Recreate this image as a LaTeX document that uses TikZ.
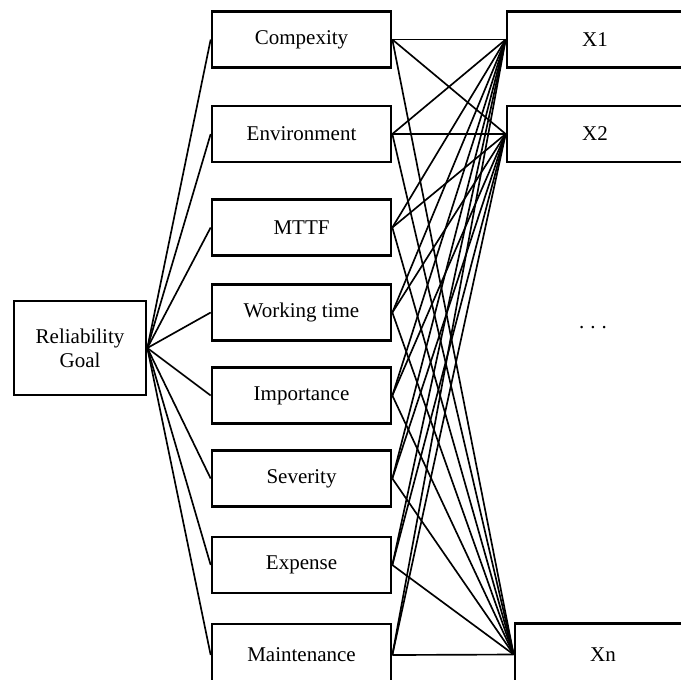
\documentclass[tikz,border=0pt]{standalone}
\usepackage{fontspec}
\setmainfont{Liberation Serif}
\begin{document}
\begin{tikzpicture}[x=0.75pt,y=-0.75pt,
  box/.style={draw=black,line width=2pt,rectangle,inner sep=0pt,
    font=\fontsize{15.75}{19}\selectfont,align=center},
  midbox/.style={box,minimum width=179*0.75pt,minimum height=56*0.75pt},
  outbox/.style={box,minimum width=176*0.75pt,minimum height=56*0.75pt},
  link/.style={line width=1.25pt,black}]
\useasboundingbox (0,0) rectangle (681,679);
\clip (0,0) rectangle (681,679);
\node[box,minimum width=132*0.75pt,minimum height=94*0.75pt] (rg) at (80,348) {Reliability\\[-1pt]Goal};
\node[midbox] (m1) at (301.5,39.5) {Compexity};
\node[midbox] (m2) at (301.5,134) {Environment};
\node[midbox] (m3) at (301.5,227.5) {MTTF};
\node[midbox] (m4) at (301.5,312.5) {Working time};
\node[midbox] (m5) at (301.5,395.5) {Importance};
\node[midbox] (m6) at (301.5,478.5) {Severity};
\node[midbox] (m7) at (301.5,565) {Expense};
\node[midbox,minimum height=62*0.75pt] (m8) at (301.5,655) {Maintenance};
\node[outbox] (x1) at (595,39.5) {X1};
\node[outbox] (x2) at (595,134) {X2};
\node[outbox,minimum height=62*0.75pt] (xn) at (603,654.5) {Xn};
\node[font=\fontsize{15.75}{19}\selectfont] (dots) at (593,328) {.\hspace{4.5pt}.\hspace{4.5pt}.};
\foreach \m in {m1,m2,m3,m4,m5,m6,m7,m8}{
  \draw[link] (rg.east) -- (\m.west);
  \draw[link] (\m.east) -- (x1.west);
  \draw[link] (\m.east) -- (x2.west);
  \draw[link] (\m.east) -- (xn.west);
}
\end{tikzpicture}
\end{document}
